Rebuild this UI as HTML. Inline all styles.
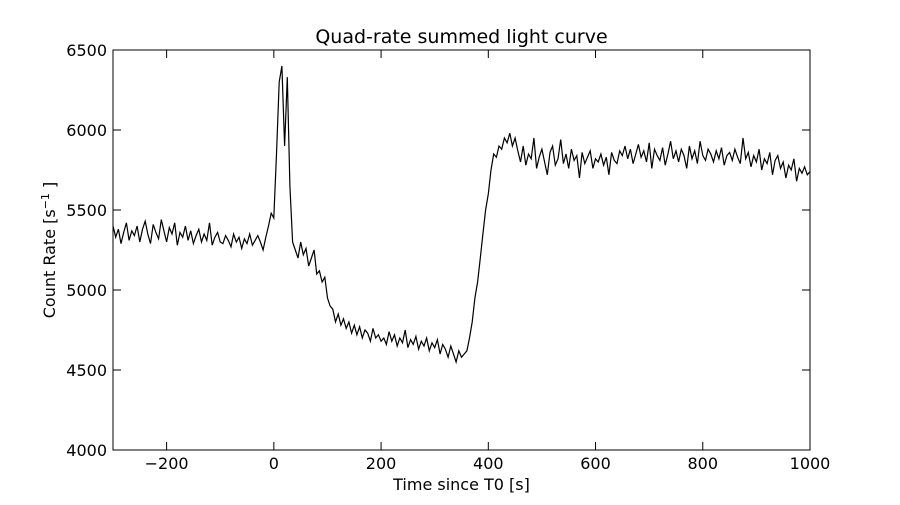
<!DOCTYPE html>
<html><head><meta charset="utf-8"><style>
body{margin:0;background:#fff;}
svg text{font-family:"DejaVu Sans","Liberation Sans",sans-serif;fill:#000;}
</style></head><body>
<svg id="chart" width="900" height="500" xmlns="http://www.w3.org/2000/svg">
<rect x="0" y="0" width="900" height="500" fill="#fff"/>
<text x="461.5" y="43" font-size="19" text-anchor="middle">Quad-rate summed light curve</text>
<text x="461.5" y="490" font-size="16" text-anchor="middle">Time since T0 [s]</text>
<text transform="translate(55,250) rotate(-90)" font-size="16" text-anchor="middle">Count Rate [s<tspan baseline-shift="super" font-size="11">−1</tspan> ]</text>
<g id="ticks"></g>
<path id="curve" fill="none" stroke="#000" stroke-width="1.2"/>
<rect x="113" y="50" width="697" height="400" fill="none" stroke="#000" stroke-width="1"/>
</svg>
<script>
const tStart = -300, tStep = 5;
const xTicks = [-200, 0, 200, 400, 600, 800, 1000];
const yTicks = [4000, 4500, 5000, 5500, 6000, 6500];
const rates = [
5400,5330,5380,5290,5360,5420,5310,5370,5340,5400,
5300,5380,5430,5350,5290,5410,5360,5320,5440,5370,
5300,5390,5350,5420,5280,5360,5330,5400,5310,5370,
5290,5340,5380,5300,5350,5310,5420,5280,5330,5360,
5300,5290,5340,5310,5270,5350,5300,5330,5260,5320,
5290,5350,5280,5310,5340,5300,5250,5330,
5400,5480,5450,5850,6300,6400,5900,6330,5650,5300,
5250,5200,5300,5220,5260,5150,5200,5250,5100,5120,5050,5080,4950,
4900,4880,4800,4850,4780,4820,4760,4800,4730,4780,4720,4770,4700,4750,4730,4680,4760,4700,4720,4680,
4700,4660,4740,4680,4720,4650,4700,4670,4750,4640,4690,4660,4710,4630,4680,4650,4700,4620,4670,4640,4690,4600,4660,4630,4580,4650,4600,4550,4620,4580,4600,
4620,4700,4800,4950,5050,5200,5350,5500,5600,5750,5850,5830,5900,5880,5950,5920,5980,5900,5950,
5870,5800,5900,5780,5850,5820,5950,5760,5830,5880,
5800,5720,5860,5900,5780,5820,5940,5790,5850,5760,
5880,5810,5840,5700,5860,5790,5830,5870,5760,5820,
5800,5850,5780,5830,5720,5860,5810,5790,5870,5840,
5900,5820,5880,5790,5850,5910,5830,5870,5800,5920,
5760,5880,5840,5810,5890,5780,5850,5930,5820,5870,
5800,5880,5840,5760,5900,5820,5870,5790,5930,5840,
5810,5880,5850,5800,5870,5820,5890,5780,5840,5860,
5810,5880,5830,5790,5950,5820,5860,5770,5840,5800,
5880,5750,5820,5790,5860,5720,5810,5840,5760,5800,
5700,5780,5750,5820,5680,5760,5730,5770,5720,5740
];
const L=113,R=810,T=50,B=450,xMin=-300,xMax=1000,yMin=4000,yMax=6500;
const xs = t => L + (t - xMin) * (R - L) / (xMax - xMin);
const ys = v => B - (v - yMin) * (B - T) / (yMax - yMin);
const NS="http://www.w3.org/2000/svg";
const g=document.getElementById('ticks');
function mk(tag,attrs,parent){const e=document.createElementNS(NS,tag);for(const k in attrs)e.setAttribute(k,attrs[k]);parent.appendChild(e);return e;}
xTicks.forEach(t=>{
  const x=xs(t);
  const a=mk('line',{x1:x,x2:x,y1:B,y2:B-8,stroke:'#000'},g);
  
  
  mk('line',{x1:x,x2:x,y1:T,y2:T+8,stroke:'#000'},g);
  const lb=mk('text',{x:x,y:B+19,'font-size':16,'text-anchor':'middle'},g);
  lb.textContent=t<0?'\u2212'+Math.abs(t):String(t);
  
  
});
yTicks.forEach(v=>{
  const y=ys(v);
  const a=mk('line',{x1:L,x2:L+8,y1:y,y2:y,stroke:'#000'},g);
  
  
  mk('line',{x1:R,x2:R-8,y1:y,y2:y,stroke:'#000'},g);
  const lb=mk('text',{x:L-6,y:y+6,'font-size':16,'text-anchor':'end'},g);
  lb.textContent=String(v);
  
  
});
let d='';
rates.forEach((v,i)=>{const t=tStart+i*tStep;d+=(i?'L':'M')+xs(t).toFixed(1)+' '+ys(v).toFixed(1);});
document.getElementById('curve').setAttribute('d',d);
</script>
</body></html>
